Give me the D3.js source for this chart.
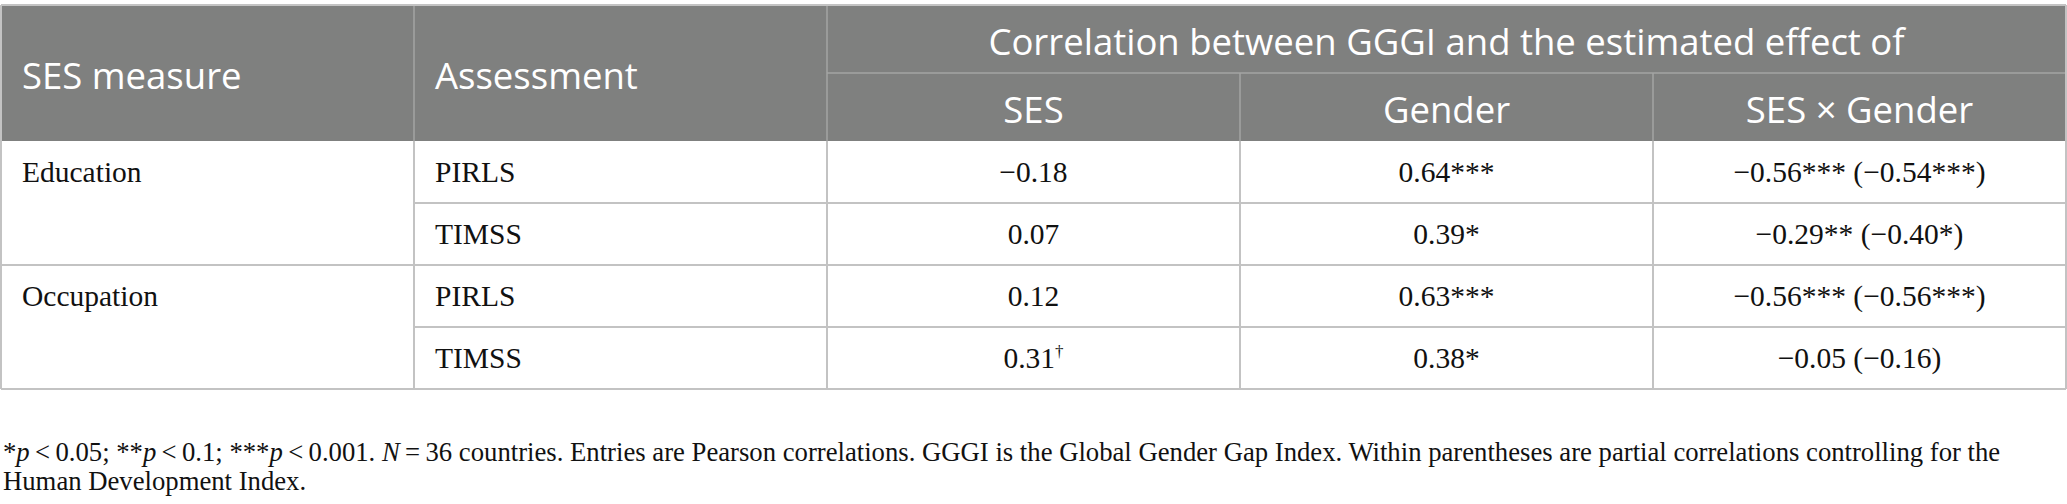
<!DOCTYPE html>
<html>
<head>
<meta charset="utf-8">
<script src="https://cdn.jsdelivr.net/npm/d3@7"></script>
<style>
  html, body { margin: 0; padding: 0; background: #fff; }
  svg { display: block; }
</style>
</head>
<body>
<div id="vis"></div>
<script>
// Table content
const headLeft = ['SES measure', 'Assessment'];
const headSpan = 'Correlation between GGGI and the estimated effect of';
const headSub = ['SES', 'Gender', 'SES \u00d7 Gender'];

const sesMeasures = ['Education', 'Occupation'];
const assessments = ['PIRLS', 'TIMSS', 'PIRLS', 'TIMSS'];

const sesEffect = ['\u22120.18', '0.07', '0.12', '0.31'];
const sesMark = ['', '', '', '\u2020'];
const genderEffect = ['0.64', '0.39', '0.63', '0.38'];
const genderMark = ['***', '*', '***', '*'];
const interaction = ['\u22120.56', '\u22120.29', '\u22120.56', '\u22120.05'];
const interactionMark = ['***', '**', '***', ''];
const partial = ['\u22120.54', '\u22120.40', '\u22120.56', '\u22120.16'];
const partialMark = ['***', '*', '***', ''];

// footnote pieces: [text, italic]
const noteLine1 = [
  ['*', false], ['p', true], ['\u2009<\u20090.05; **', false], ['p', true],
  ['\u2009<\u20090.1; ***', false], ['p', true], ['\u2009<\u20090.001. ', false],
  ['N', true], ['\u2009=\u200936 countries. Entries are Pearson correlations. GGGI is the Global Gender Gap Index. Within parentheses are partial correlations controlling for the', false]
];
const noteLine2 = 'Human Development Index.';

const width = 2067;
const height = 504;
const topY = 5, headMid = 73, headBottom = 141, bodyBottom = 389;
const pad = 21;

const headFont = '"Open Sans", "Noto Sans", sans-serif';
const bodyFont = '"Liberation Serif", "DejaVu Serif", serif';
const headBg = '#7f807f';
const lineCol = '#c3c3c3';
const headLine = '#a3a4a3';

const svg = d3.select('#vis')
  .append('svg')
  .attr('width', width)
  .attr('height', height);

// Scales for columns and body rows
const x = d3.scaleBand()
  .domain(d3.range(5))
  .range([1, 2066]);
const y = d3.scaleBand()
  .domain(d3.range(assessments.length))
  .range([headBottom, bodyBottom]);
const right = x(4) + x.bandwidth();

// Header background
svg.append('rect')
  .attr('x', x(0)).attr('y', topY)
  .attr('width', right - x(0))
  .attr('height', headBottom - topY)
  .attr('fill', headBg);

// Header inner lines
const hl = svg.append('g').attr('stroke', headLine).attr('stroke-width', 1.5);
[1, 2].forEach(function(c) {
  hl.append('line').attr('x1', x(c)).attr('x2', x(c)).attr('y1', topY).attr('y2', headBottom);
});
[3, 4].forEach(function(c) {
  hl.append('line').attr('x1', x(c)).attr('x2', x(c)).attr('y1', headMid).attr('y2', headBottom);
});
hl.append('line').attr('x1', x(2)).attr('x2', right).attr('y1', headMid).attr('y2', headMid);

// Header text
const ht = svg.append('g')
  .attr('fill', '#fff')
  .attr('font-family', headFont)
  .attr('font-size', 36.5)
  .attr('dominant-baseline', 'central');

ht.selectAll('text.left')
  .data(headLeft)
  .join('text')
  .attr('class', 'left')
  .attr('x', function(d, i) { return x(i) + pad; })
  .attr('y', (topY + headBottom) / 2 + 2)
  .text(function(d) { return d; });

ht.append('text')
  .attr('x', (x(2) + right) / 2)
  .attr('y', (topY + headMid) / 2 + 2)
  .attr('text-anchor', 'middle')
  .text(headSpan);

ht.selectAll('text.sub')
  .data(headSub)
  .join('text')
  .attr('class', 'sub')
  .attr('x', function(d, i) { return x(i + 2) + x.bandwidth() / 2; })
  .attr('y', (headMid + headBottom) / 2 + 2)
  .attr('text-anchor', 'middle')
  .text(function(d) { return d; });

// Body grid
const grid = svg.append('g').attr('stroke', lineCol).attr('stroke-width', 2).attr('fill', 'none');
d3.range(1, assessments.length + 1).forEach(function(r) {
  const yy = r < assessments.length ? y(r) : bodyBottom;
  const full = r % 2 === 0;
  grid.append('line')
    .attr('x1', full ? x(0) : x(1)).attr('x2', right)
    .attr('y1', yy).attr('y2', yy);
});
d3.range(6).forEach(function(c) {
  const xx = c < 5 ? x(c) : right;
  grid.append('line')
    .attr('x1', xx).attr('x2', xx)
    .attr('y1', headBottom).attr('y2', bodyBottom);
});
// outer border round the header
grid.append('line').attr('x1', x(0)).attr('x2', right).attr('y1', topY).attr('y2', topY);
grid.append('line').attr('x1', x(0)).attr('x2', x(0)).attr('y1', topY).attr('y2', headBottom);
grid.append('line').attr('x1', right).attr('x2', right).attr('y1', topY).attr('y2', headBottom);

// Body text
const bt = svg.append('g')
  .attr('fill', '#111')
  .attr('font-family', bodyFont)
  .attr('font-size', 29.5)
  .attr('dominant-baseline', 'central');

bt.selectAll('text.ses')
  .data(sesMeasures)
  .join('text')
  .attr('class', 'ses')
  .attr('x', x(0) + pad)
  .attr('y', function(d, i) { return y(i * 2) + y.bandwidth() / 2; })
  .text(function(d) { return d; });

bt.selectAll('text.assess')
  .data(assessments)
  .join('text')
  .attr('class', 'assess')
  .attr('x', x(1) + pad)
  .attr('y', function(d, i) { return y(i) + y.bandwidth() / 2; })
  .text(function(d) { return d; });

function valueCol(col, vals, marks, vals2, marks2) {
  const t = bt.selectAll('text.c' + col)
    .data(vals)
    .join('text')
    .attr('class', 'c' + col)
    .attr('x', x(col) + x.bandwidth() / 2)
    .attr('y', function(d, i) { return y(i) + y.bandwidth() / 2; })
    .attr('text-anchor', 'middle');
  t.append('tspan').text(function(d) { return d; });
  t.append('tspan')
    .attr('font-size', function(d, i) { return marks[i] === '\u2020' ? 17 : null; })
    .attr('baseline-shift', function(d, i) { return marks[i] === '\u2020' ? '40%' : null; })
    .text(function(d, i) { return marks[i]; });
  if (vals2) {
    t.append('tspan').text(function(d, i) { return ' (' + vals2[i]; });
    t.append('tspan').text(function(d, i) { return marks2[i]; });
    t.append('tspan').text(')');
  }
}
valueCol(2, sesEffect, sesMark);
valueCol(3, genderEffect, genderMark);
valueCol(4, interaction, interactionMark, partial, partialMark);

// Footnote
const note = svg.append('g')
  .attr('fill', '#111')
  .attr('font-family', bodyFont)
  .attr('font-size', 26.7);

const n1 = note.append('text').attr('x', 3).attr('y', 461);
n1.selectAll('tspan')
  .data(noteLine1)
  .join('tspan')
  .attr('font-style', function(d) { return d[1] ? 'italic' : null; })
  .text(function(d) { return d[0]; });

note.append('text').attr('x', 3).attr('y', 490).text(noteLine2);
</script>
</body>
</html>
